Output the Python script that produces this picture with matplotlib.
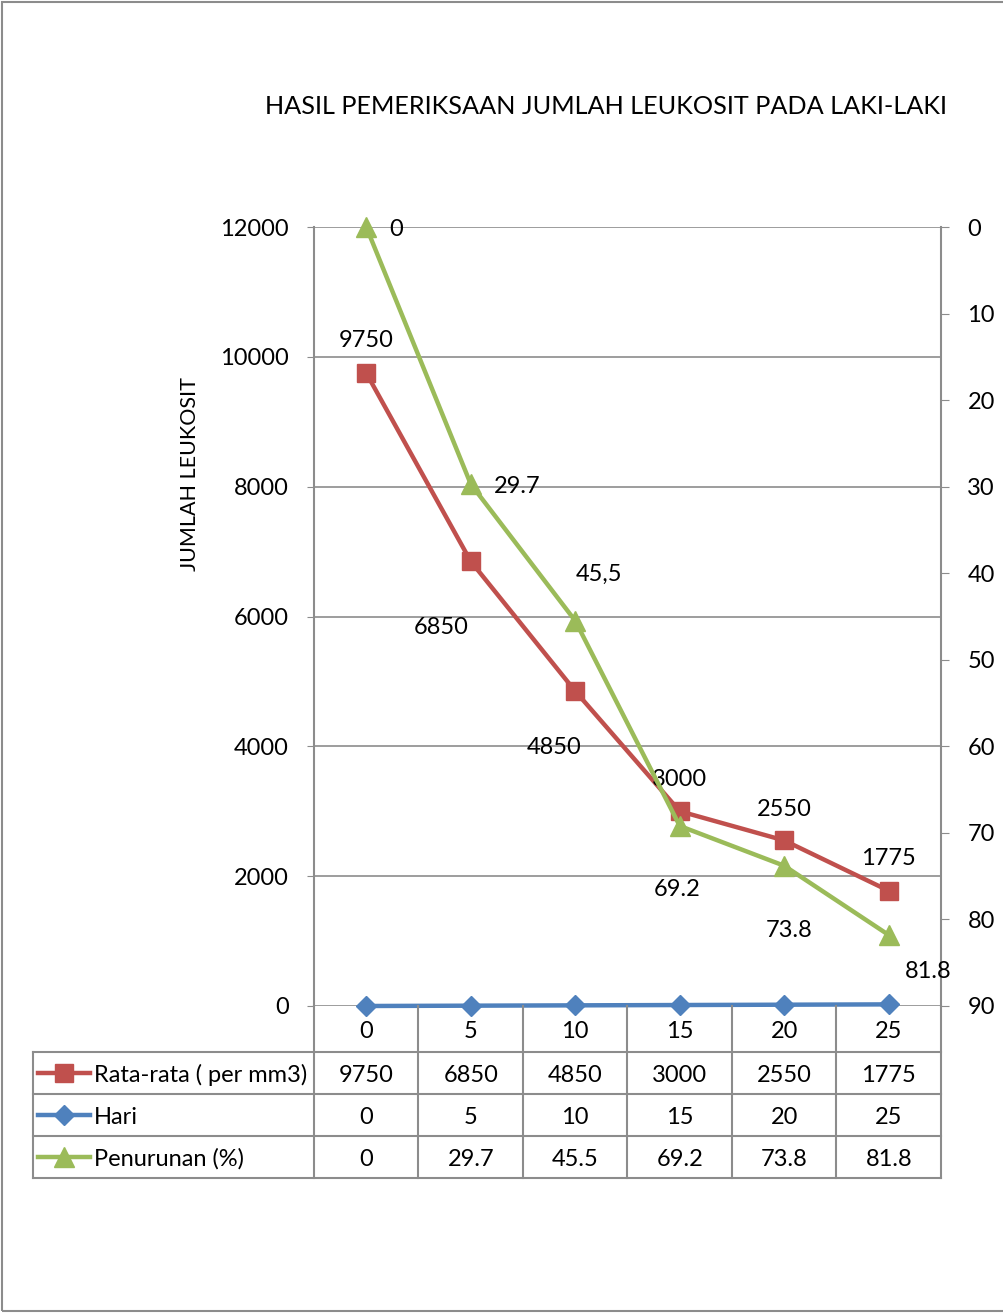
import matplotlib.pyplot as plt
import matplotlib.transforms as mtransforms
from matplotlib.lines import Line2D
from matplotlib.patches import Rectangle

# === DATA ===
hari_labels = ["0", "5", "10", "15", "20", "25"]
rata_rata = [9750, 6850, 4850, 3000, 2550, 1775]
hari = [0, 5, 10, 15, 20, 25]
penurunan = [0, 29.7, 45.5, 69.2, 73.8, 81.8]
penurunan_labels = ["0", "29.7", "45,5", "69.2", "73.8", "81.8"]
penurunan_table = ["0", "29.7", "45.5", "69.2", "73.8", "81.8"]

series_names = ["Rata-rata ( per mm3)", "Hari", "Penurunan (%)"]

RED = "#C0504D"
BLUE = "#4F81BD"
GREEN = "#9BBB59"
GRID = "#8C8C8C"

W, H = 1004, 1313
plt.rcParams['font.family'] = ['Lato', 'DejaVu Sans']
FS = 17


def fx(px):
    return px / W


def fy(py):
    return 1 - py / H


fig = plt.figure(figsize=(W / 100, H / 100), dpi=100)

# outer chart border
fig.patches.append(Rectangle((fx(2), fy(1311)), fx(1020), fy(2) - fy(1311),
                             transform=fig.transFigure, fill=False,
                             edgecolor=GRID, linewidth=1.5))

ax = fig.add_axes([fx(314), fy(1006), fx(941) - fx(314), fy(227) - fy(1006)])
ax2 = ax.twinx()
x = list(range(len(hari_labels)))

ax.set_xlim(-0.5, len(x) - 0.5)
ax.set_ylim(0, 12000)
ax.set_yticks(range(0, 12001, 2000))
ax.grid(axis='y', color=GRID, linewidth=1.2)
ax.set_axisbelow(True)
ax.set_xticks([])
ax.tick_params(axis='y', direction='out', length=5, color=GRID,
               labelsize=FS, pad=13)
for side in ["top", "bottom", "right"]:
    ax.spines[side].set_visible(False)
ax.spines["left"].set_color(GRID)
ax.spines["left"].set_linewidth(1.5)

ax2.set_ylim(90, 0)
ax2.set_yticks(range(0, 91, 10))
ax2.tick_params(axis='y', direction='out', length=6, color=GRID,
                labelsize=FS, pad=13)
for side in ["top", "bottom", "left"]:
    ax2.spines[side].set_visible(False)
ax2.spines["right"].set_color(GRID)
ax2.spines["right"].set_linewidth(1.5)

# series
ax.plot(x, hari, color=BLUE, linewidth=3.2, marker='D', markersize=10,
        clip_on=False, zorder=5)
ax.plot(x, rata_rata, color=RED, linewidth=3.2, marker='s', markersize=13,
        clip_on=False, zorder=6)
ax2.plot(x, penurunan, color=GREEN, linewidth=3.2, marker='^', markersize=14,
         clip_on=False, zorder=7)

# data labels (pixel offsets from each point)
red_offsets = [(0, 33), (-30, -66), (-21, -56), (0, 32), (0, 31), (0, 32)]
green_offsets = [(30, -2), (46, -2), (24, 46), (-3, -64), (5, -65), (39, -36)]
for i, v in enumerate(rata_rata):
    ax.annotate(str(v), (x[i], v), xytext=red_offsets[i],
                textcoords='offset pixels', ha='center', va='center',
                fontsize=FS, zorder=10)
for i, v in enumerate(penurunan):
    ax2.annotate(penurunan_labels[i], (x[i], v), xytext=green_offsets[i],
                 textcoords='offset pixels', ha='center', va='center',
                 fontsize=FS, zorder=10, annotation_clip=False)

fig.text(fx(190), fy(474), "JUMLAH LEUKOSIT", rotation=90,
         ha='center', va='center', fontsize=15.5)

fig.text(fx(606), fy(106), "HASIL PEMERIKSAAN JUMLAH LEUKOSIT PADA LAKI-LAKI",
         ha='center', va='center', fontsize=18.2)

# === DATA TABLE ===
blend = mtransforms.blended_transform_factory(ax.transData, fig.transFigure)
row_edges = [1052, 1094, 1136, 1178]
row_centers = [1075, 1117, 1159]

for b in [i - 0.5 for i in range(len(x) + 1)]:
    fig.add_artist(Line2D([b, b], [fy(1006), fy(1178)], transform=blend,
                          color=GRID, linewidth=1.5))
for r in row_edges:
    fig.add_artist(Line2D([fx(33), fx(941)], [fy(r), fy(r)],
                          transform=fig.transFigure, color=GRID, linewidth=1.5))
fig.add_artist(Line2D([fx(33), fx(33)], [fy(1052), fy(1178)],
                      transform=fig.transFigure, color=GRID, linewidth=1.5))

for i, lab in enumerate(hari_labels):
    fig.text(x[i], fy(1031), lab, transform=blend, ha='center', va='center',
             fontsize=FS)

rows = [[str(v) for v in rata_rata], [str(v) for v in hari], penurunan_table]
styles = [(RED, 's', 13), (BLUE, 'D', 10), (GREEN, '^', 14)]
for k, (name, vals) in enumerate(zip(series_names, rows)):
    yc = fy(row_centers[k])
    ym = fy(row_centers[k] - 2)
    color, mk, ms = styles[k]
    fig.add_artist(Line2D([fx(38), fx(90)], [ym, ym], transform=fig.transFigure,
                          color=color, linewidth=3.2))
    fig.add_artist(Line2D([fx(64)], [ym], transform=fig.transFigure,
                          color=color, marker=mk, markersize=ms, linewidth=0))
    fig.text(fx(94), yc, name, ha='left', va='center', fontsize=FS)
    for i, v in enumerate(vals):
        fig.text(x[i], yc, v, transform=blend, ha='center', va='center',
                 fontsize=FS)

fig.savefig("out.png", dpi=100)
